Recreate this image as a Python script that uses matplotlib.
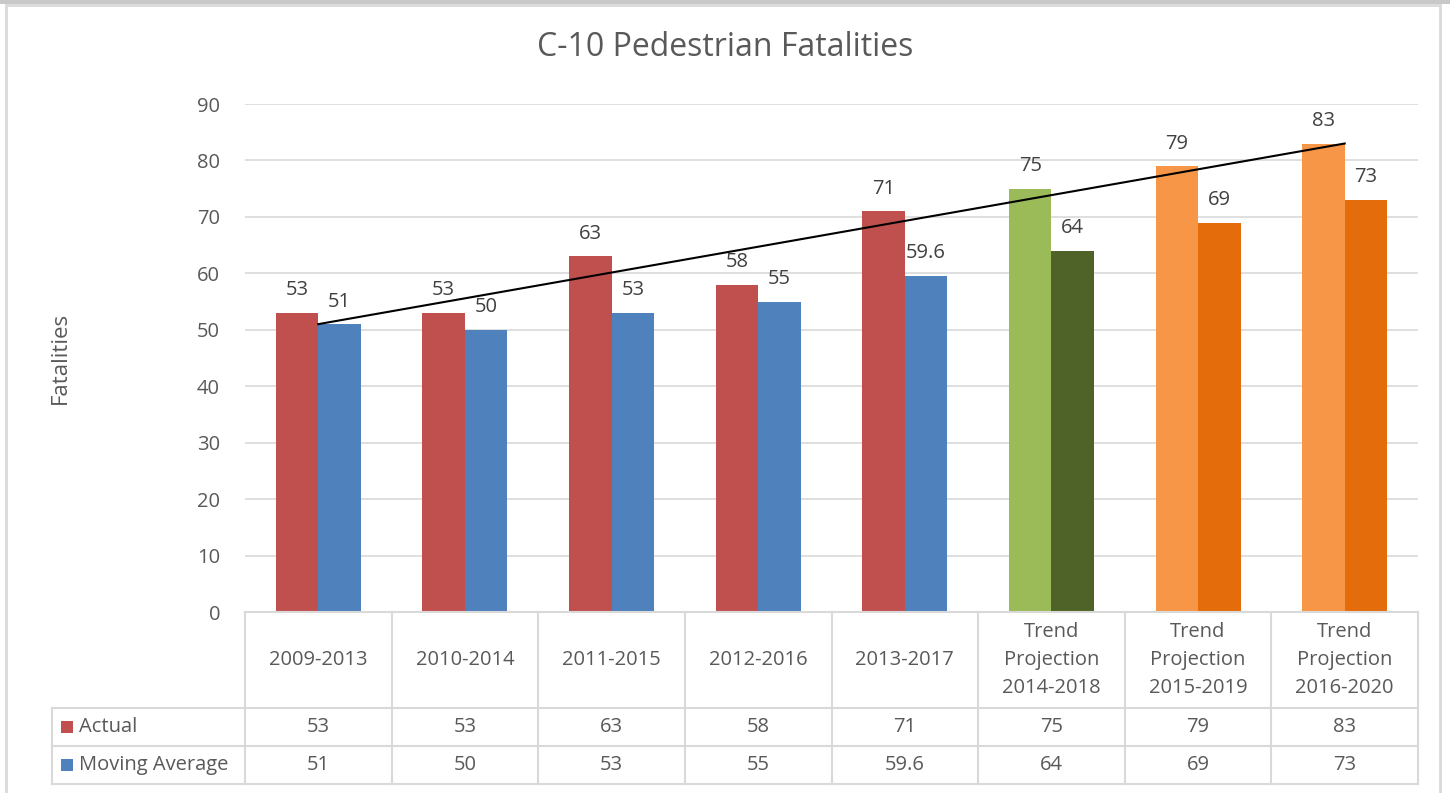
import matplotlib.pyplot as plt
from matplotlib.patches import Rectangle
from matplotlib.lines import Line2D
from matplotlib.transforms import blended_transform_factory

plt.rcParams['font.family'] = ['Open Sans', 'DejaVu Sans']

# Data
categories = ['2009-2013', '2010-2014', '2011-2015', '2012-2016', '2013-2017',
              'Trend\nProjection\n2014-2018', 'Trend\nProjection\n2015-2019',
              'Trend\nProjection\n2016-2020']
actual = [53, 53, 63, 58, 71, 75, 79, 83]
moving_avg = [51, 50, 53, 55, 59.6, 64, 69, 73]
actual_labels = ['53', '53', '63', '58', '71', '75', '79', '83']
ma_labels = ['51', '50', '53', '55', '59.6', '64', '69', '73']

# Colours per bar
actual_colors = ['#C0504D'] * 5 + ['#9BBB59', '#F79646', '#F79646']
ma_colors = ['#4F81BD'] * 5 + ['#4F6228', '#E46C0A', '#E46C0A']

W, H = 1450, 793
fs = 14.5
fig = plt.figure(figsize=(W / 100, H / 100), dpi=100)

def px(x0, y0, x1, y1):
    return [x0 / W, 1 - y1 / H, (x1 - x0) / W, (y1 - y0) / H]

# frame of the chart area
fig.patches.append(Rectangle((6 / W, -0.05), (1440 - 6) / W, 1.05 - 5 / H,
                             transform=fig.transFigure, fill=False,
                             edgecolor='#D9D9D9', linewidth=2))
fig.patches.append(Rectangle((0, 1 - 4 / H), 1, 4 / H, transform=fig.transFigure,
                             facecolor='#C8C8C8', edgecolor='none'))

ax = fig.add_axes(px(245, 104, 1418, 612))
n = len(categories)
x = list(range(n))
bw = 0.29
text_col = '#595959'

ax.bar([i - bw / 2 for i in x], actual, width=bw, color=actual_colors, zorder=2)
ax.bar([i + bw / 2 for i in x], moving_avg, width=bw, color=ma_colors, zorder=2)

for i in x:
    ax.annotate(actual_labels[i], (i - bw / 2, actual[i]), xytext=(0, 9),
                textcoords='offset points', ha='center', va='bottom',
                fontsize=fs, color='#404040')
    ax.annotate(ma_labels[i], (i + bw / 2, moving_avg[i]), xytext=(0, 9),
                textcoords='offset points', ha='center', va='bottom',
                fontsize=fs, color='#404040')

# trend line
ax.plot([x[0], x[-1]], [moving_avg[0], actual[-1]], color='black', linewidth=1.5, zorder=3)

ax.set_xlim(-0.5, n - 0.5)
ax.set_ylim(0, 90)
ax.set_yticks(range(0, 91, 10))
ax.yaxis.grid(True, color='#D9D9D9', linewidth=1.2)
ax.set_axisbelow(True)
ax.set_xticks([])
for s in ['top', 'right', 'left']:
    ax.spines[s].set_visible(False)
ax.spines['bottom'].set_color('#D9D9D9')
ax.spines['bottom'].set_linewidth(1.5)
ax.tick_params(axis='y', length=0, pad=18, labelsize=fs, labelcolor=text_col)

fig.text(60 / W, 1 - 358 / H, 'Fatalities', rotation=90, ha='center', va='center',
         fontsize=16, color=text_col)
fig.text(725 / W, 1 - 48 / H, 'C-10 Pedestrian Fatalities', ha='center', va='center',
         fontsize=23, color=text_col)

# data table below the axis
tr = blended_transform_factory(ax.transData, ax.transAxes)
ah = 612 - 104
def yf(ypx):
    return (612 - ypx) / ah
cw = (1418 - 245) / n
left = -0.5 - (245 - 52) / cw
line_kw = dict(color='#D9D9D9', linewidth=1.5, transform=tr, clip_on=False)
for ypx in [708, 746, 784]:
    ax.add_line(Line2D([left, n - 0.5], [yf(ypx), yf(ypx)], **line_kw))
for k in range(n + 1):
    ax.add_line(Line2D([k - 0.5, k - 0.5], [yf(612), yf(784)], **line_kw))
ax.add_line(Line2D([left, left], [yf(708), yf(784)], **line_kw))

for i in x:
    ax.text(i, yf(660), categories[i], transform=tr, ha='center', va='center',
            fontsize=fs, color=text_col, linespacing=1.55)
    ax.text(i, yf(727), actual_labels[i], transform=tr, ha='center', va='center',
            fontsize=fs, color=text_col)
    ax.text(i, yf(765), ma_labels[i], transform=tr, ha='center', va='center',
            fontsize=fs, color=text_col)

for row_y, name, col in [(727, 'Actual', '#C0504D'), (765, 'Moving Average', '#4F81BD')]:
    fig.patches.append(Rectangle((61 / W, 1 - (row_y + 6) / H), 12 / W, 12 / H,
                                 transform=fig.transFigure, facecolor=col,
                                 edgecolor='none'))
    fig.text(79 / W, 1 - row_y / H, name, ha='left', va='center',
             fontsize=fs, color=text_col)

fig.savefig('out.png', dpi=100)
